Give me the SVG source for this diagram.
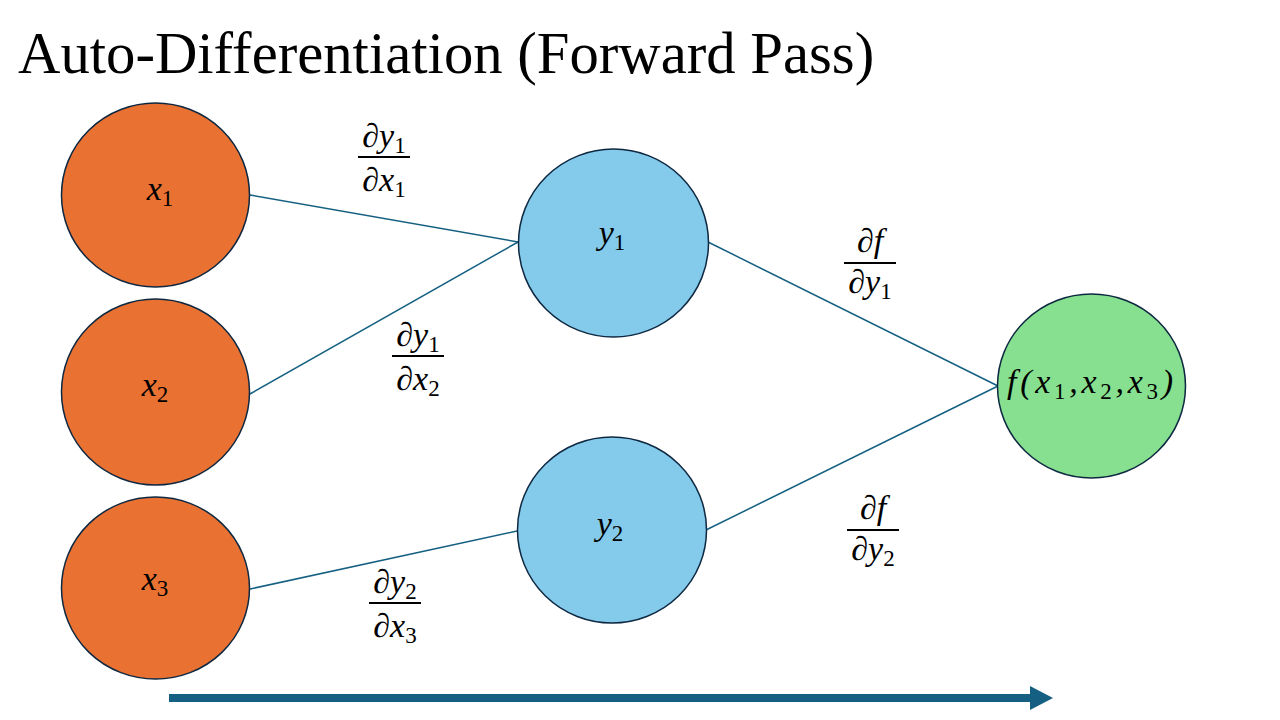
<svg xmlns="http://www.w3.org/2000/svg" width="1280" height="720" viewBox="0 0 1280 720">
<style>
.title{font-family:"Liberation Serif","Times New Roman",serif;font-size:58.7px;fill:#000}
.m{font-family:"Liberation Serif","DejaVu Serif",serif;font-style:italic;font-size:34px;fill:#000}
.s{font-style:normal;font-size:23px}
.node{stroke:#0E2841;stroke-width:1.5}
.x{fill:#E97132}
.y{fill:#83CAEB}
.f{fill:#86E08F}
.edge{stroke:#156082;stroke-width:1.5;fill:none}
.bar{stroke:#000;stroke-width:2}
</style>
<rect width="1280" height="720" fill="#fff"/>
<text class="title" x="18" y="73">Auto-Differentiation (Forward Pass)</text>

<g id="connectors">
<line class="edge" x1="250" y1="195" x2="518" y2="242"/>
<line class="edge" x1="250" y1="394" x2="518" y2="242"/>
<line class="edge" x1="250" y1="589" x2="517" y2="531"/>
<line class="edge" x1="708" y1="242" x2="998" y2="386"/>
<line class="edge" x1="706" y1="530" x2="998" y2="386"/>
</g>

<g id="node-x1"><ellipse class="node x" cx="155.5" cy="195" rx="94" ry="92"/>
<text class="m" x="160" y="200" text-anchor="middle">x<tspan class="s" dy="6">1</tspan></text></g>
<g id="node-x2"><ellipse class="node x" cx="155.5" cy="392" rx="94" ry="93"/>
<text class="m" x="155" y="396" text-anchor="middle">x<tspan class="s" dy="6">2</tspan></text></g>
<g id="node-x3"><ellipse class="node x" cx="155.5" cy="588" rx="94" ry="91"/>
<text class="m" x="155" y="590" text-anchor="middle">x<tspan class="s" dy="6">3</tspan></text></g>
<g id="node-y1"><ellipse class="node y" cx="613.5" cy="243" rx="95" ry="94"/>
<text class="m" x="612" y="244" text-anchor="middle">y<tspan class="s" dy="6">1</tspan></text></g>
<g id="node-y2"><ellipse class="node y" cx="612" cy="530" rx="94.5" ry="93"/>
<text class="m" x="610" y="535" text-anchor="middle">y<tspan class="s" dy="6">2</tspan></text></g>
<g id="node-f"><ellipse class="node f" cx="1091.5" cy="386" rx="94" ry="92"/>
<text class="m" x="1007" y="393" textLength="166" lengthAdjust="spacing">f(x<tspan class="s" dy="6">1</tspan><tspan dy="-6">,x</tspan><tspan class="s" dy="6">2</tspan><tspan dy="-6">,x</tspan><tspan class="s" dy="6">3</tspan><tspan dy="-6">)</tspan></text></g>

<g id="label-dy1dx1">
<text class="m" x="384" y="147" text-anchor="middle">∂y<tspan class="s" dy="6">1</tspan></text>
<line class="bar" x1="358" y1="157" x2="410" y2="157"/>
<text class="m" x="384" y="191" text-anchor="middle">∂x<tspan class="s" dy="6">1</tspan></text>
</g>
<g id="label-dy1dx2">
<text class="m" x="418" y="346" text-anchor="middle">∂y<tspan class="s" dy="6">1</tspan></text>
<line class="bar" x1="392" y1="356" x2="444" y2="356"/>
<text class="m" x="418" y="390" text-anchor="middle">∂x<tspan class="s" dy="6">2</tspan></text>
</g>
<g id="label-dy2dx3">
<text class="m" x="395" y="593" text-anchor="middle">∂y<tspan class="s" dy="6">2</tspan></text>
<line class="bar" x1="369" y1="603" x2="421" y2="603"/>
<text class="m" x="395" y="637" text-anchor="middle">∂x<tspan class="s" dy="6">3</tspan></text>
</g>
<g id="label-dfdy1">
<text class="m" x="870" y="252" text-anchor="middle">∂f</text>
<line class="bar" x1="844" y1="263" x2="896" y2="263"/>
<text class="m" x="870" y="293" text-anchor="middle">∂y<tspan class="s" dy="6">1</tspan></text>
</g>
<g id="label-dfdy2">
<text class="m" x="873" y="519" text-anchor="middle">∂f</text>
<line class="bar" x1="847" y1="530" x2="899" y2="530"/>
<text class="m" x="873" y="560" text-anchor="middle">∂y<tspan class="s" dy="6">2</tspan></text>
</g>

<g id="progress-arrow">
<line x1="169" y1="698" x2="1032" y2="698" stroke="#156082" stroke-width="8"/>
<polygon points="1030,686 1053,698 1030,710" fill="#156082"/>
</g>
</svg>
